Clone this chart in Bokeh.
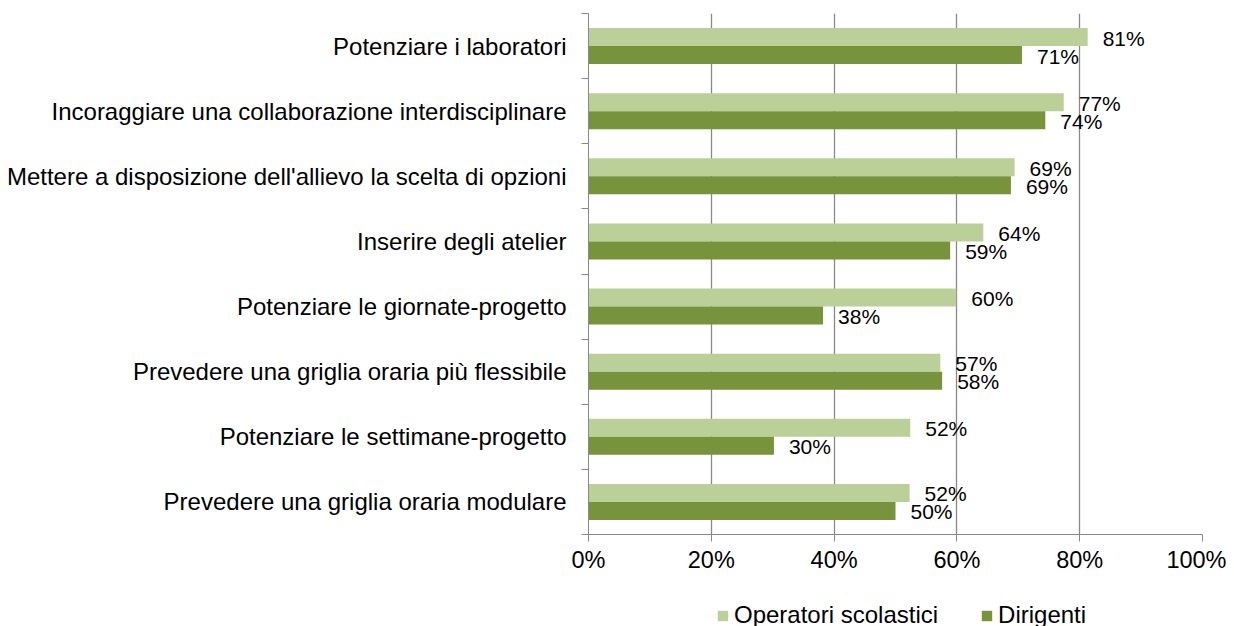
from bokeh.plotting import figure
from bokeh.layouts import column
from bokeh.models import Range1d, FixedTicker, PrintfTickFormatter, Legend, LegendItem, ColumnDataSource
from bokeh.core.properties import value
from bokeh.embed import file_html
from bokeh.resources import INLINE

categories = [
    "Potenziare i laboratori",
    "Incoraggiare una collaborazione interdisciplinare",
    "Mettere a disposizione dell'allievo la scelta di opzioni",
    "Inserire degli atelier",
    "Potenziare le giornate-progetto",
    "Prevedere una griglia oraria più flessibile",
    "Potenziare le settimane-progetto",
    "Prevedere una griglia oraria modulare",
]
operatori = [81.3, 77.4, 69.4, 64.3, 59.9, 57.3, 52.4, 52.3]
dirigenti = [70.6, 74.4, 68.8, 58.9, 38.2, 57.6, 30.2, 50.0]
series_names = ["Operatori scolastici", "Dirigenti"]
x_ticks = [0, 20, 40, 60, 80, 100]

LIGHT = "#bbcf98"
DARK = "#77933c"
GRID = "#898989"
FONT = "Liberation Sans"

n = len(categories)
centers = [n - i - 0.5 for i in range(n)]
bh = 0.277
y_light = [c + bh / 2 for c in centers]
y_dark = [c - bh / 2 for c in centers]

src = ColumnDataSource(dict(
    cat=categories, op=operatori, di=dirigenti, yl=y_light, yd=y_dark,
    opl=[f"{round(v)}%" for v in operatori],
    dil=[f"{round(v)}%" for v in dirigenti],
))

p = figure(width=1226, height=590, output_backend="svg", toolbar_location=None,
           x_range=Range1d(0, 100), y_range=Range1d(0, n),
           min_border_left=588, min_border_right=24, min_border_top=13, min_border_bottom=56)
p.outline_line_color = None
p.background_fill_color = "white"

r1 = p.hbar(y="yl", right="op", left=0, height=bh, source=src, fill_color=LIGHT, line_color=None)
r2 = p.hbar(y="yd", right="di", left=0, height=bh, source=src, fill_color=DARK, line_color=None)

p.text(x="op", y="yl", text="opl", source=src, x_offset=15, y_offset=1,
       text_baseline="middle", text_align="left", text_font=value(FONT),
       text_font_size="21px", text_color="#000000")
p.text(x="di", y="yd", text="dil", source=src, x_offset=15, y_offset=1,
       text_baseline="middle", text_align="left", text_font=value(FONT),
       text_font_size="21px", text_color="#000000")

# x axis
p.xaxis.ticker = FixedTicker(ticks=x_ticks)
p.xaxis.formatter = PrintfTickFormatter(format="%d%%")
p.xaxis.axis_line_color = GRID
p.xaxis.major_tick_line_color = GRID
p.xaxis.major_tick_out = 7
p.xaxis.major_tick_in = 0
p.xaxis.minor_tick_line_color = None
p.xaxis.major_label_text_font = FONT
p.xaxis.major_label_text_font_size = "23.5px"
p.xaxis.major_label_text_color = "#000000"
p.xaxis.major_label_standoff = 5

# y axis
p.yaxis.ticker = FixedTicker(ticks=centers, minor_ticks=list(range(n + 1)))
p.yaxis.major_label_overrides = {c: cat for c, cat in zip(centers, categories)}
p.yaxis.axis_line_color = GRID
p.yaxis.major_tick_line_color = None
p.yaxis.major_tick_out = 0
p.yaxis.major_tick_in = 0
p.yaxis.minor_tick_line_color = GRID
p.yaxis.minor_tick_out = 7
p.yaxis.minor_tick_in = 0
p.yaxis.major_label_text_font = FONT
p.yaxis.major_label_text_font_size = "24px"
p.yaxis.major_label_text_color = "#000000"
p.yaxis.major_label_standoff = 15

p.xgrid.ticker = FixedTicker(ticks=x_ticks[1:])
p.xgrid.grid_line_color = GRID
p.xgrid.grid_line_width = 1.3
p.ygrid.grid_line_color = None

# legend strip below the chart (frame aligned with the chart's frame)
lf = figure(width=1226, height=36, output_backend="svg", toolbar_location=None,
            x_range=Range1d(0, 1), y_range=Range1d(0, 1),
            x_axis_type=None, y_axis_type=None,
            min_border=0, min_border_left=588, min_border_right=24,
            min_border_top=0, min_border_bottom=0)
lf.outline_line_color = None
lf.xgrid.visible = False
lf.ygrid.visible = False
# swatch renderers: one point placed outside the visible range
sw = ColumnDataSource(dict(y=[-5], right=[0.5]))
l1 = lf.hbar(y="y", right="right", left=0, height=0.1, source=sw, fill_color=LIGHT, line_color=None)
l2 = lf.hbar(y="y", right="right", left=0, height=0.1, source=sw, fill_color=DARK, line_color=None)

legend = Legend(items=[LegendItem(label=series_names[0], renderers=[l1]),
                       LegendItem(label=series_names[1], renderers=[l2])],
                location=(128, -3), orientation="horizontal")
legend.border_line_color = None
legend.background_fill_alpha = 0
legend.padding = 0
legend.margin = 0
legend.spacing = 42
legend.label_standoff = 5
legend.glyph_width = 13
legend.glyph_height = 13
legend.label_text_font = FONT
legend.label_text_font_size = "24px"
legend.label_text_color = "#000000"
lf.add_layout(legend, "center")

layout = column(p, lf, spacing=0)
open("out.html", "w").write(file_html(layout, INLINE))
